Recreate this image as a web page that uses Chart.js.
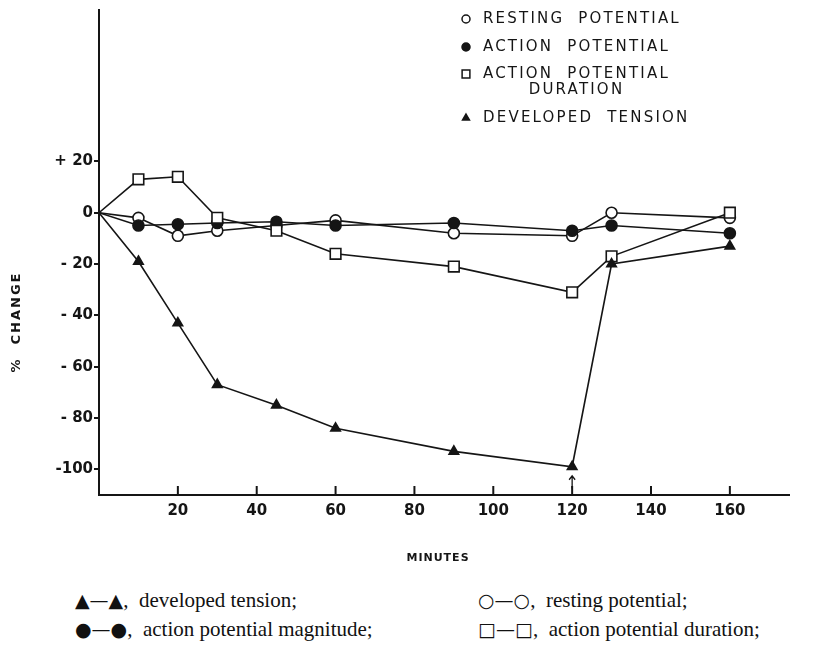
<!DOCTYPE html>
<html>
<head>
<meta charset="utf-8">
<script src="https://cdn.jsdelivr.net/npm/chart.js@4.4.0/dist/chart.umd.min.js"></script>
<style>
  body { margin: 0; background: #fff; width: 824px; height: 652px; overflow: hidden; position: relative; }
  #wrap { position: absolute; left: 0; top: 0; width: 824px; height: 575px; }
  .cap { position: absolute; font-family: "Liberation Serif", "DejaVu Serif", serif; font-size: 21px; color: #111; white-space: nowrap; }
  .sym { font-family: "DejaVu Sans", sans-serif; font-size: 19px; }
</style>
</head>
<body>
<div id="wrap"><canvas id="myChart" width="824" height="575"></canvas></div>
<div class="cap" style="left:75px; top:588px;"><span class="sym">▲—▲</span>, &nbsp;developed tension;</div>
<div class="cap" style="left:75px; top:617px;"><span class="sym">●—●</span>, &nbsp;action potential magnitude;</div>
<div class="cap" style="left:478px; top:588px;"><span class="sym">○—○</span>, &nbsp;resting potential;</div>
<div class="cap" style="left:478px; top:617px;"><span class="sym">□—□</span>, &nbsp;action potential duration;</div>
<script>
// values (% change vs minutes)
var minutes = [0, 10, 20, 30, 45, 60, 90, 120, 130, 160];
var restingPotential = [0, -2, -9, -7, -5, -3, -8, -9, 0, -2];
var actionPotential = [0, -5, -4.5, -4, -3.5, -5, -4, -7, -5, -8];
var apDuration = [0, 13, 14, -2, -7, -16, -21, -31, -17, 0];
var developedTension = [0, -19, -43, -67, -75, -84, -93, -99, -20, -13];

var xTicks = [20, 40, 60, 80, 100, 120, 140, 160];
var yTicks = [-100, -80, -60, -40, -20, 0, 20];
var legendLabels = [['RESTING  POTENTIAL'], ['ACTION  POTENTIAL'], ['ACTION  POTENTIAL', 'DURATION'], ['DEVELOPED  TENSION']];
var arrowMinute = 120;

var ink = '#151515';

function toPoints(vals) {
    return minutes.map(function(m, i) { return { x: m, y: vals[i] }; });
}

function series(label, vals, style, filled, radius) {
    return {
        label: label,
        data: toPoints(vals),
        borderColor: ink,
        borderWidth: 1.6,
        tension: 0,
        pointStyle: style,
        pointRadius: minutes.map(function(m) { return m === 0 ? 0 : radius; }),
        pointHoverRadius: radius,
        pointBackgroundColor: filled ? ink : '#fff',
        pointBorderColor: ink,
        pointBorderWidth: 1.6
    };
}

var datasets = [
    series('DEVELOPED TENSION', developedTension, 'triangle', true, 5.5),
    series('ACTION POTENTIAL DURATION', apDuration, 'rect', false, 7.5),
    series('ACTION POTENTIAL', actionPotential, 'circle', true, 5.5),
    series('RESTING POTENTIAL', restingPotential, 'circle', false, 5.5)
];

// legend order in the figure: resting, action, duration, tension
var legendOrder = [3, 2, 1, 0];
var legendRows = [19, 47, 74, 118];

var extras = {
    id: 'extras',
    afterDraw: function(chart) {
        var ctx = chart.ctx;
        var xs = chart.scales.x, ys = chart.scales.y;
        var bottom = chart.chartArea.bottom;
        ctx.save();
        ctx.strokeStyle = ink;
        ctx.fillStyle = ink;

        // x ticks point up into the plot
        ctx.lineWidth = 2;
        xTicks.forEach(function(v) {
            var px = xs.getPixelForValue(v);
            ctx.beginPath();
            ctx.moveTo(px, bottom);
            ctx.lineTo(px, bottom - 9);
            ctx.stroke();
        });

        // little arrow under the 120 min point
        var ax = xs.getPixelForValue(arrowMinute);
        var aTop = ys.getPixelForValue(-102.5), aBot = ys.getPixelForValue(-107.5);
        ctx.lineWidth = 1.3;
        ctx.beginPath();
        ctx.moveTo(ax, aBot);
        ctx.lineTo(ax, aTop);
        ctx.moveTo(ax - 3, aTop + 4);
        ctx.lineTo(ax, aTop);
        ctx.lineTo(ax + 3, aTop + 4);
        ctx.stroke();

        // y title
        ctx.save();
        ctx.translate(17, 322);
        ctx.rotate(-Math.PI / 2);
        ctx.font = 'bold 13px "DejaVu Sans"';
        ctx.letterSpacing = '2px';
        ctx.textAlign = 'center';
        ctx.textBaseline = 'middle';
        ctx.fillText('%  CHANGE', 0, 0);
        ctx.restore();

        // x title
        ctx.font = 'bold 11px "DejaVu Sans"';
        ctx.letterSpacing = '1px';
        ctx.textAlign = 'center';
        ctx.textBaseline = 'middle';
        ctx.fillText('MINUTES', 438, 558);

        // legend block, top right
        ctx.font = '15px "DejaVu Sans"';
        ctx.letterSpacing = '2.2px';
        ctx.textBaseline = 'middle';
        legendOrder.forEach(function(di, row) {
            var ds = chart.data.datasets[di];
            var y = legendRows[row];
            var r = ds.pointStyle === 'rect' ? 5.5 : 4;
            ctx.fillStyle = ds.pointBackgroundColor;
            ctx.strokeStyle = ink;
            ctx.lineWidth = 1.5;
            Chart.helpers.drawPoint(ctx, { pointStyle: ds.pointStyle, radius: r, borderWidth: 1.5, rotation: 0 }, 466, y);
            ctx.fillStyle = ink;
            var lines = legendLabels[row];
            ctx.textAlign = 'left';
            ctx.fillText(lines[0], 483, y);
            if (lines.length > 1) {
                var w = ctx.measureText(lines[0]).width;
                ctx.textAlign = 'center';
                ctx.fillText(lines[1], 483 + w / 2, y + 16);
            }
        });
        ctx.restore();
    }
};

var ctx = document.getElementById('myChart').getContext('2d');
var myChart = new Chart(ctx, {
    type: 'line',
    data: { datasets: datasets },
    options: {
        responsive: false,
        animation: false,
        layout: { padding: { left: 0, right: 35, top: 5, bottom: 0 } },
        plugins: { legend: { display: false }, tooltip: { enabled: false } },
        scales: {
            x: {
                type: 'linear',
                min: 0,
                max: 175,
                afterBuildTicks: function(s) { s.ticks = xTicks.map(function(v) { return { value: v }; }); },
                afterFit: function(s) { s.height = 80; },
                grid: { display: true, drawOnChartArea: false, drawTicks: false },
                border: { display: true, color: ink, width: 2 },
                ticks: {
                    color: ink,
                    font: { family: 'DejaVu Sans', size: 15, weight: 'bold' },
                    padding: 7,
                    maxRotation: 0,
                    autoSkip: false
                }
            },
            y: {
                type: 'linear',
                min: -110,
                max: 79,
                afterBuildTicks: function(s) { s.ticks = yTicks.map(function(v) { return { value: v }; }); },
                afterFit: function(s) { s.width = 99; },
                grid: { drawOnChartArea: false, drawTicks: true, tickLength: 5, color: ink, lineWidth: 2 },
                border: { display: true, color: ink, width: 2 },
                ticks: {
                    color: ink,
                    font: { family: 'DejaVu Sans', size: 15, weight: 'bold' },
                    padding: 1,
                    callback: function(v) {
                        if (v > 0) return '+ ' + v;
                        if (v === 0) return '0';
                        if (v === -100) return '-100';
                        return '- ' + (-v);
                    }
                }
            }
        }
    },
    plugins: [extras]
});
</script>
</body>
</html>
